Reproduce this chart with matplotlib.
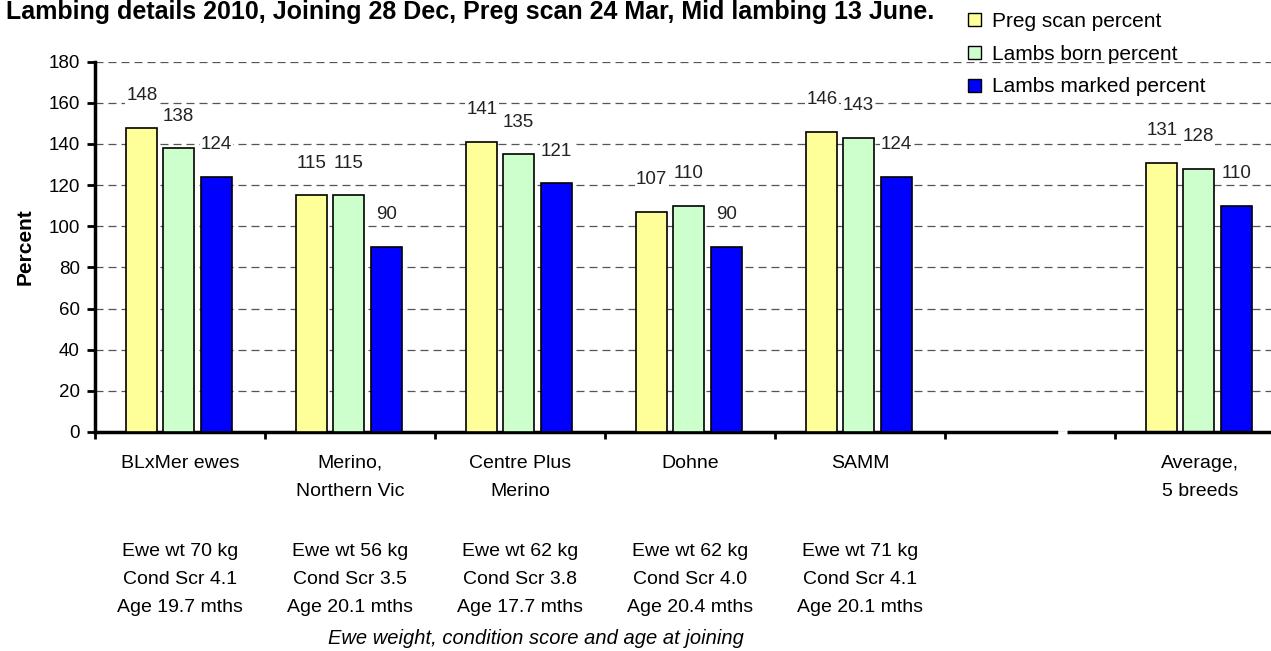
import matplotlib
matplotlib.use('Agg')
import matplotlib.pyplot as plt
from matplotlib import font_manager
from matplotlib.transforms import blended_transform_factory
from matplotlib.patches import Patch

# ---------------- data ----------------
categories = ['BLxMer ewes', 'Merino,\nNorthern Vic', 'Centre Plus\nMerino',
              'Dohne', 'SAMM', 'Average,\n5 breeds']
preg_scan = [148, 115, 141, 107, 146, 131]
lambs_born = [138, 115, 135, 110, 143, 128]
lambs_marked = [124, 90, 121, 90, 124, 110]
series_names = ['Preg scan percent', 'Lambs born percent', 'Lambs marked percent']
ewe_wt = [70, 56, 62, 62, 71]
cond_scr = [4.1, 3.5, 3.8, 4.0, 4.1]
age_mths = [19.7, 20.1, 17.7, 20.4, 20.1]
yticks = [0, 20, 40, 60, 80, 100, 120, 140, 160, 180]
title = 'Lambing details 2010, Joining 28 Dec, Preg scan 24 Mar, Mid lambing 13 June.'
ylabel = 'Percent'
xnote = 'Ewe weight, condition score and age at joining'

# ---------------- style ----------------
names = {f.name for f in font_manager.fontManager.ttflist}
main_font = 'Liberation Sans' if 'Liberation Sans' in names else 'DejaVu Sans'
narrow_font = 'Liberation Sans Narrow' if 'Liberation Sans Narrow' in names else main_font
plt.rcParams['font.family'] = [main_font, 'DejaVu Sans']

colors = ['#FFFF99', '#CCFFCC', '#0000FF']
W, H = 1271, 651
fig = plt.figure(figsize=(W / 100, H / 100), dpi=100)


def fx(px):
    return px / W


def fy(px):
    return 1 - px / H


x0_px, px_unit = 95, 170
ax = fig.add_axes([fx(x0_px), fy(432), fx(W) - fx(x0_px), fy(61.7) - fy(432)])
slots = [0, 1, 2, 3, 4, 6]          # slot 5 is left empty before the average
xmin = -0.5
xmax = -0.5 + (W - x0_px) / px_unit
ax.set_xlim(xmin, xmax)
ax.set_ylim(0, 180)

bar_w = 0.185
offsets = [-0.225, -0.01, 0.215]
series = [preg_scan, lambs_born, lambs_marked]
for vals, off, col in zip(series, offsets, colors):
    xs = [s + off for s in slots]
    ax.bar(xs, vals, width=bar_w, color=col, edgecolor='black', linewidth=1.2, zorder=3)
    for x, v in zip(xs, vals):
        ax.annotate(str(v), (x, v), xytext=(0, 23), textcoords='offset points',
                    ha='center', va='center', fontsize=13.5, family=narrow_font,
                    color='#222222', zorder=4,
                    bbox=dict(facecolor='white', edgecolor='none', pad=1.0))

# grid
ax.set_yticks(yticks)
ax.set_axisbelow(True)
ax.yaxis.grid(True, linestyle=(0, (6.4, 4)), color='#555555', linewidth=0.9)

# spines
for s in ['top', 'right']:
    ax.spines[s].set_visible(False)
ax.spines['left'].set_linewidth(2.5)
brk1 = (1056 - x0_px) / px_unit - 0.5
brk2 = (1067 - x0_px) / px_unit - 0.5
ax.spines['bottom'].set_linewidth(2.5)
ax.spines['bottom'].set_bounds(xmin, brk1)
ax.plot([brk2, xmax], [0, 0], color='black', linewidth=2.5, solid_capstyle='butt',
        transform=blended_transform_factory(ax.transData, ax.transAxes),
        clip_on=False, zorder=5)

# ticks
ax.set_xticks([b - 0.5 for b in range(7)])
ax.set_xticklabels([])
ax.tick_params(axis='x', direction='out', length=5, width=2)
ax.tick_params(axis='y', direction='out', length=6, width=2, labelsize=13.5, pad=5)
ax.set_ylabel(ylabel, fontsize=15, fontweight='bold', labelpad=10)

# category labels and ewe info
bt = blended_transform_factory(ax.transData, fig.transFigure)
for s, cat in zip(slots, categories):
    for j, line in enumerate(cat.split('\n')):
        ax.text(s, fy(463 + 28 * j), line, transform=bt, ha='center', va='center',
                fontsize=14)
for i in range(len(ewe_wt)):
    lines = [f'Ewe wt {ewe_wt[i]} kg', f'Cond Scr {cond_scr[i]:.1f}', f'Age {age_mths[i]:.1f} mths']
    for j, line in enumerate(lines):
        ax.text(slots[i], fy(552 + 27.5 * j), line, transform=bt, ha='center',
                va='center', fontsize=14)

fig.text(fx(536), fy(639), xnote, ha='center', va='center', fontsize=14.5, style='italic')
fig.text(fx(6), fy(19), title, ha='left', va='baseline', fontsize=18, fontweight='bold')

handles = [Patch(facecolor=c, edgecolor='black', linewidth=1) for c in colors]
fig.legend(handles, series_names, loc='upper left', bbox_to_anchor=(fx(968), fy(12)),
           frameon=False, handlelength=0.6, handleheight=0.6, handletextpad=0.55,
           labelspacing=0.66, fontsize=15, borderaxespad=0, borderpad=0)

fig.savefig('out.png', dpi=100)
